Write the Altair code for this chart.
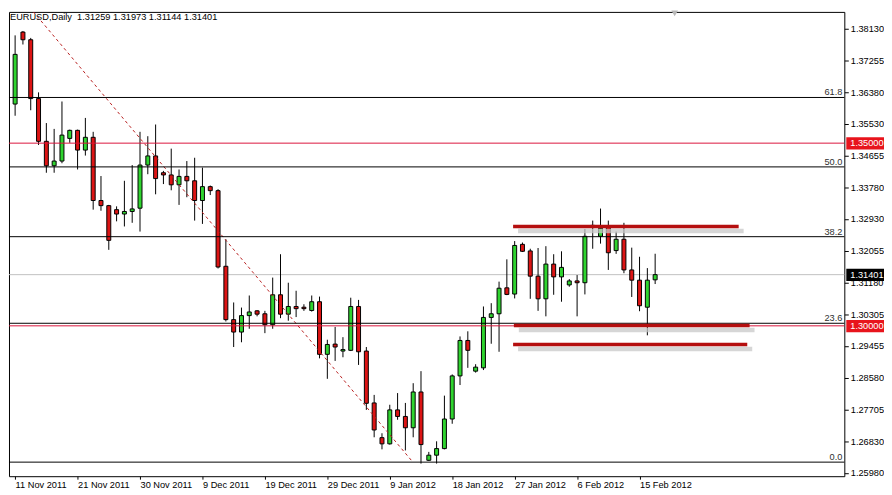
import altair as alt
import pandas as pd

# ---------------- data ----------------
opens = [1.3607, 1.3804, 1.3783, 1.3622, 1.3505, 1.3438, 1.3451, 1.3513, 1.3535, 1.3481,
         1.3516, 1.3343, 1.3329, 1.3318, 1.3306, 1.3313, 1.3322, 1.3440, 1.3465, 1.3419,
         1.3413, 1.3386, 1.3409, 1.3397, 1.3343, 1.3381, 1.3370, 1.3163, 1.3017, 1.2983,
         1.3028, 1.3041, 1.3033, 1.3003, 1.3085, 1.3032, 1.3053, 1.3051, 1.3042, 1.3066,
         1.2922, 1.2950, 1.2931, 1.2933, 1.3053, 1.2931, 1.2789, 1.2694, 1.2677, 1.2770,
         1.2752, 1.2721, 1.2819, 1.2632, 1.2646, 1.2664, 1.2745, 1.2863, 1.2960, 1.2876,
         1.2885, 1.3023, 1.3033, 1.3104, 1.3087, 1.3223, 1.3205, 1.3136, 1.3074, 1.3169,
         1.3134, 1.3112, 1.3123, 1.3118, 1.3269, 1.3245, 1.3272, 1.3206, 1.3237, 1.3153,
         1.3125, 1.3051, 1.31259]
closes = [1.3743, 1.3783, 1.3622, 1.3505, 1.3438, 1.3451, 1.3522, 1.3535, 1.3481, 1.3516,
          1.3343, 1.3329, 1.3234, 1.3306, 1.3313, 1.3320, 1.3440, 1.3465, 1.3403, 1.3413,
          1.3386, 1.3409, 1.3397, 1.3343, 1.3381, 1.3370, 1.3161, 1.3017, 1.2983, 1.3028,
          1.3038, 1.3032, 1.3003, 1.3085, 1.3032, 1.3053, 1.3047, 1.3047, 1.3066, 1.2922,
          1.2949, 1.2942, 1.2935, 1.3053, 1.2929, 1.2788, 1.2715, 1.2677, 1.2770, 1.2752,
          1.2721, 1.2819, 1.2675, 1.2646, 1.2664, 1.2745, 1.2863, 1.2960, 1.2933, 1.2887,
          1.3023, 1.3033, 1.3103, 1.3086, 1.3220, 1.3204, 1.3136, 1.3074, 1.3169, 1.3134,
          1.3160, 1.3123, 1.3118, 1.3245, 1.3275, 1.3267, 1.3200, 1.3237, 1.3153, 1.3125,
          1.3055, 1.3125, 1.31401]
highs = [1.3795, 1.3807, 1.3788, 1.3639, 1.3555, 1.3539, 1.3614, 1.3537, 1.3537, 1.3569,
         1.3531, 1.3410, 1.3331, 1.3327, 1.3397, 1.3440, 1.3531, 1.3519, 1.3551, 1.3424,
         1.3485, 1.3428, 1.3451, 1.3460, 1.3433, 1.3384, 1.3374, 1.3237, 1.3064, 1.3050,
         1.3083, 1.3043, 1.3041, 1.3132, 1.3196, 1.3118, 1.3096, 1.3059, 1.3083, 1.3080,
         1.2962, 1.2997, 1.2969, 1.3077, 1.3071, 1.2942, 1.2811, 1.2706, 1.2784, 1.2816,
         1.2789, 1.2843, 1.2876, 1.2655, 1.2684, 1.2809, 1.2867, 1.2971, 1.2985, 1.2895,
         1.3053, 1.3062, 1.3121, 1.3182, 1.3232, 1.3228, 1.3211, 1.3213, 1.3218, 1.3196,
         1.3204, 1.3128, 1.3139, 1.3265, 1.3288, 1.3321, 1.3288, 1.3258, 1.3282, 1.3214,
         1.3189, 1.3158, 1.31973]
lows = [1.3575, 1.3770, 1.3590, 1.3495, 1.3419, 1.3419, 1.3445, 1.3501, 1.3428, 1.3466,
        1.3318, 1.3315, 1.3208, 1.3286, 1.3272, 1.3282, 1.3258, 1.3415, 1.3360, 1.3388,
        1.3371, 1.3331, 1.3352, 1.3288, 1.3279, 1.3358, 1.3157, 1.3012, 1.2942, 1.2955,
        1.2992, 1.3026, 1.2980, 1.2992, 1.3021, 1.3014, 1.3024, 1.3041, 1.3039, 1.2911,
        1.2855, 1.2904, 1.2914, 1.2931, 1.2893, 1.2770, 1.2695, 1.2662, 1.2675, 1.2743,
        1.2659, 1.2695, 1.2623, 1.2630, 1.2623, 1.2662, 1.2732, 1.2838, 1.2885, 1.2872,
        1.2879, 1.2951, 1.2929, 1.3084, 1.3075, 1.3202, 1.3074, 1.3041, 1.3026, 1.3085,
        1.3066, 1.3107, 1.3026, 1.3086, 1.3211, 1.3225, 1.3153, 1.3197, 1.3144, 1.3079,
        1.3040, 1.2974, 1.31144]

date_ticks = [0, 8, 16, 24, 32, 40, 48, 56, 64, 72, 80]
date_labels = ["11 Nov 2011", "21 Nov 2011", "30 Nov 2011", "9 Dec 2011", "19 Dec 2011",
               "29 Dec 2011", "9 Jan 2012", "18 Jan 2012", "27 Jan 2012", "6 Feb 2012",
               "15 Feb 2012"]
price_ticks = [1.38130, 1.37255, 1.36380, 1.35530, 1.34655, 1.33780, 1.32930, 1.32055,
               1.31180, 1.30305, 1.29455, 1.28580, 1.27705, 1.26830, 1.25980]

fib_names = ["0.0", "23.6", "38.2", "50.0", "61.8"]
fib_prices = [1.2627, 1.3007, 1.3244, 1.3435, 1.3625]

red_level_prices = [1.3500, 1.3000]
bid_price = 1.31401

hl_prices = [1.35000, 1.31401, 1.30000]
hl_texts = ["1.35000", "1.31401", "1.30000"]
hl_colors = ["#e8141c", "#000000", "#e8141c"]

trend_i = [1.84, 50.96]
trend_p = [1.3872, 1.2627]

sr_start = [63.8, 63.9, 63.8]
sr_end = [92.7, 94.1, 93.8]
sr_price = [1.3272, 1.3001, 1.2949]

header = "EURUSD,Daily\u00a0 1.31259 1.31973 1.31144 1.31401"

# ---------------- tables ----------------
candles = pd.DataFrame({"i": list(range(len(opens))), "open": opens, "high": highs,
                        "low": lows, "close": closes})
candles["dir"] = ["up" if c >= o else "down" for o, c in zip(opens, closes)]
fib_df = pd.DataFrame({"p": fib_prices, "t": fib_names})
red_df = pd.DataFrame({"p": red_level_prices})
bid_df = pd.DataFrame({"p": [bid_price]})
hl_df = pd.DataFrame({"p": hl_prices, "t": hl_texts, "c": hl_colors})
trend_df = pd.DataFrame({"i": trend_i, "p": trend_p})
sr_df = pd.DataFrame({"i": sr_start, "i2": sr_end, "p": sr_price})

FONT = "Liberation Sans"
FS = 9.3
xs = alt.Scale(domain=[-0.15, 105.6], nice=False, zero=False)
ys = alt.Scale(domain=[1.25885, 1.38592], nice=False, zero=False)

tick_arr = "[" + ",".join(str(v) for v in date_ticks) + "]"
lab_arr = "[" + ",".join("'" + s + "'" for s in date_labels) + "]"
x_label_expr = lab_arr + "[indexof(" + tick_arr + ", datum.value)]"

x_axis = alt.Axis(values=date_ticks, labelExpr=x_label_expr, title=None, grid=False,
                  domain=False, tickSize=3, tickColor="black", labelAlign="left",
                  labelPadding=1, labelFont=FONT, labelFontSize=FS, labelColor="black",
                  labelOverlap=False, labelFlush=False)
y_axis = alt.Axis(orient="right", values=price_ticks, labelExpr="format(datum.value, '.5f')",
                  title=None, grid=False, domain=False, tickSize=4, tickColor="black",
                  labelPadding=2, labelFont=FONT, labelFontSize=FS, labelColor="black",
                  labelOverlap=False)

XN = lambda f: alt.X(f, scale=xs, axis=x_axis)
YN = lambda f: alt.Y(f, scale=ys, axis=y_axis)

bid_line = alt.Chart(bid_df).mark_rule(color="#c0c0c0", strokeWidth=1).encode(y=YN("p:Q"))

wicks = alt.Chart(candles).mark_rule(color="black", strokeWidth=1, clip=True).encode(
    x=XN("i:Q"),
    y=YN("low:Q"),
    y2="high:Q",
)
bodies = alt.Chart(candles).mark_bar(size=4, stroke="black", strokeWidth=1, clip=True).encode(
    x=XN("i:Q"),
    y=YN("open:Q"),
    y2="close:Q",
    color=alt.Color("dir:N", scale=alt.Scale(domain=["up", "down"],
                                             range=["#2fd42f", "#dc1414"]), legend=None),
)

trend = alt.Chart(trend_df).mark_line(color="#b82020", strokeDash=[3, 3], strokeWidth=1,
                                      clip=True).encode(x=XN("i:Q"), y=YN("p:Q"))

fib_lines = alt.Chart(fib_df).mark_rule(color="black", strokeWidth=1).encode(y=YN("p:Q"))
fib_text = alt.Chart(fib_df).mark_text(align="right", baseline="alphabetic", dy=-2,
                                       font=FONT, fontSize=FS, color="#303030").encode(
    x=alt.value(840), y=YN("p:Q"), text="t:N")

red_lines = alt.Chart(red_df).mark_rule(color="#dc143c", strokeWidth=1).encode(y=YN("p:Q"))

sr_shadow = alt.Chart(sr_df).mark_rule(color="#c8c8c8", strokeWidth=4.5, opacity=0.75,
                                       xOffset=5, x2Offset=5, yOffset=4.5,
                                       y2Offset=4.5).encode(
    x=XN("i:Q"), x2="i2:Q", y=YN("p:Q"), y2="p:Q")
sr_lines = alt.Chart(sr_df).mark_rule(color="#b50f0f", strokeWidth=3.6).encode(
    x=XN("i:Q"), x2="i2:Q", y=YN("p:Q"), y2="p:Q")

hl_box = alt.Chart(hl_df).mark_rect(yOffset=-6, y2Offset=6.5).encode(
    x=alt.value(844), x2=alt.value(882), y=YN("p:Q"), y2="p:Q",
    color=alt.Color("c:N", scale=None))
hl_text = alt.Chart(hl_df).mark_text(align="left", baseline="middle", font=FONT,
                                     fontSize=FS, color="white").encode(
    x=alt.value(848), y=YN("p:Q"), text="t:N")

head = alt.Chart(pd.DataFrame({"t": [header]})).mark_text(
    align="left", baseline="middle", font=FONT, fontSize=FS, color="black").encode(
    x=alt.value(1), y=alt.value(5), text="t:N")

marker = alt.Chart(pd.DataFrame({"t": [1]})).mark_point(
    shape="triangle-down", filled=True, color="#b8b8b8", size=45, opacity=1).encode(
    x=alt.value(671), y=alt.value(1.5))

chart = alt.layer(
    bid_line, wicks, bodies, trend, fib_lines, fib_text, red_lines,
    sr_shadow, sr_lines, hl_box, hl_text, head, marker
).properties(width=842, height=468, padding=0, background="white").configure_view(
    stroke="black", strokeWidth=1)

chart.save("out.html", embed_options={"renderer": "svg", "actions": False})
